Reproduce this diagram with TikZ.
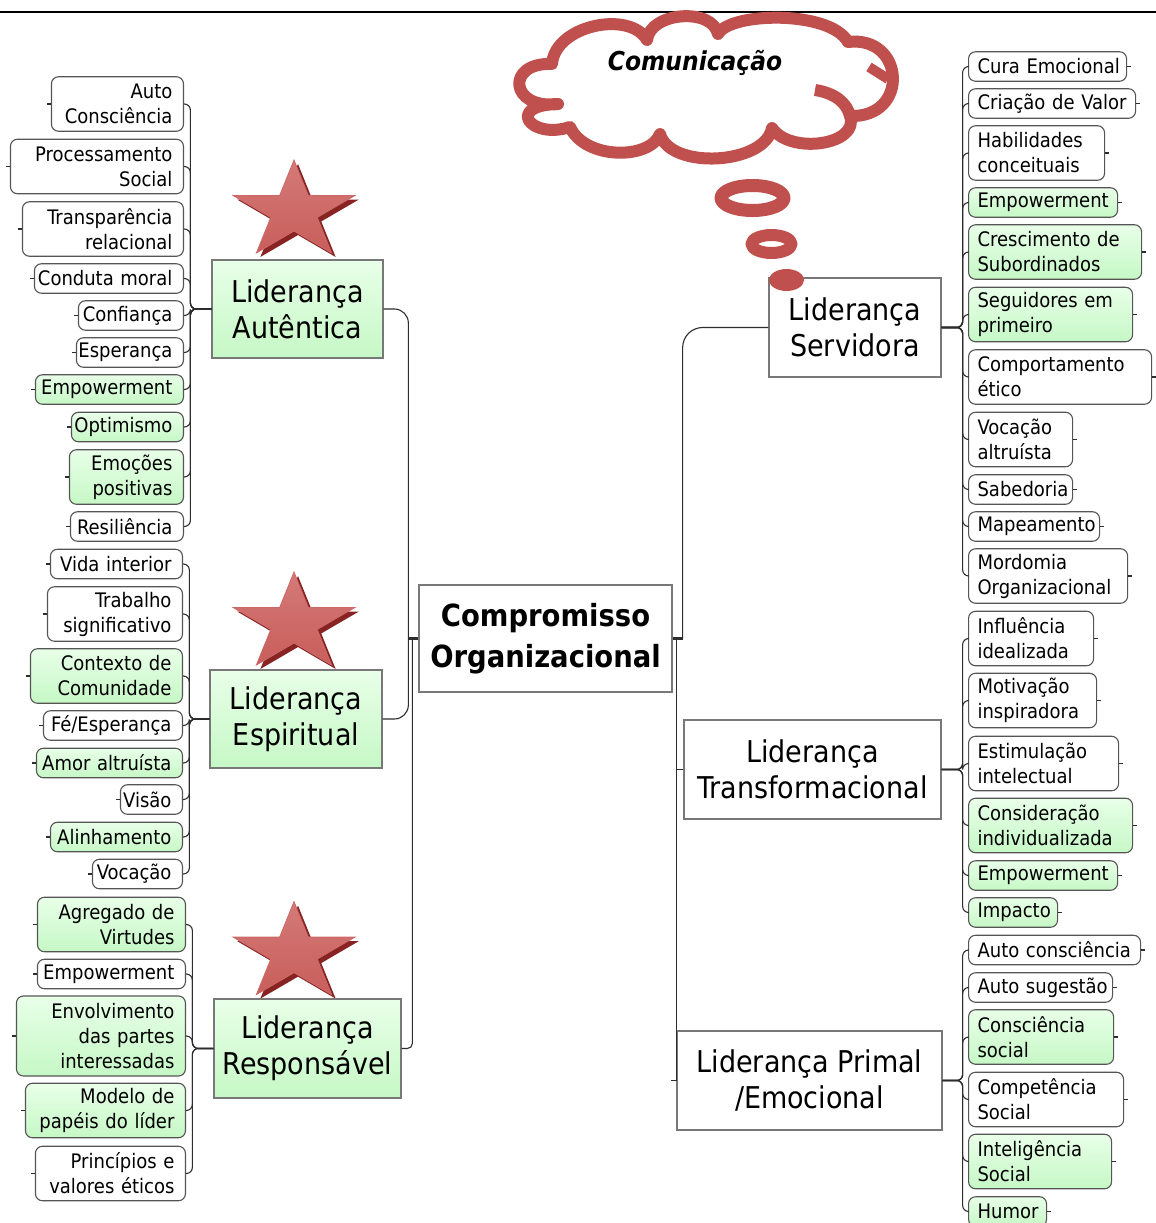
\documentclass[tikz,border=0pt]{standalone}
\usepackage{fontspec}
\setmainfont{DejaVu Sans Condensed}
\definecolor{cloudred}{RGB}{192,80,77}
\definecolor{nodeline}{RGB}{85,85,85}
\definecolor{mainline}{RGB}{120,120,120}
\definecolor{wirec}{RGB}{45,45,45}
\definecolor{gtop}{RGB}{232,255,232}
\definecolor{gbot}{RGB}{198,248,198}
\definecolor{starlight}{RGB}{212,122,120}
\definecolor{starmid}{RGB}{192,80,77}
\definecolor{starlow}{RGB}{200,94,91}
\definecolor{starshade}{RGB}{135,35,35}
\definecolor{staredge}{RGB}{206,104,102}
\newcommand\linR[1]{\makebox[\hsize][r]{#1}}
\newcommand\linL[1]{\makebox[\hsize][l]{#1}}
\tikzset{
  base/.style={draw=nodeline, line width=1.1, rounded corners=7, inner ysep=0,
    font=\fontsize{20}{25}\selectfont},
  lc/.style={base, anchor=east, align=right, inner xsep=11},
  rc/.style={base, anchor=west, align=left, inner xsep=9},
  greenfill/.style={top color=gtop, bottom color=gbot},
  whitefill/.style={fill=white},
  oneline/.style={minimum height=29.5},
  twoline/.style={minimum height=54.5},
  threeline/.style={minimum height=80},
  mainbox/.style={draw=mainline, line width=1.3, inner sep=0, align=center,
    font=\fontsize{30}{36}\selectfont},
  wire/.style={draw=wirec, line width=1.1, rounded corners=6},
  cloudline/.style={draw=cloudred, line width=12, line join=round},
  starbody/.style={top color=starlight, middle color=starmid, bottom color=starlow,
    draw=staredge, line width=0.8},
  pics/redstar/.style={code={
    \fill[starshade] (4,-47.4) -- (18.37,-11.88) -- (64.87,-11.88) -- (27.25,10.07)
      -- (41.62,45.58) -- (4,23.63) -- (-33.62,45.58) -- (-19.25,10.07)
      -- (-56.87,-11.88) -- (-10.37,-11.88) -- cycle;
    \path[starbody] (0,-51.4) -- (14.37,-15.88) -- (60.87,-15.88) -- (23.25,6.07)
      -- (37.62,41.58) -- (0,19.63) -- (-37.62,41.58) -- (-23.25,6.07)
      -- (-60.87,-15.88) -- (-14.37,-15.88) -- cycle;
  }}
}
\begin{document}
\begin{tikzpicture}[x=1pt,y=-1pt]
\useasboundingbox (0,0) rectangle (1156,1223);

% page rule behind the thought cloud
\coordinate (ruleL) at (0,12);
\coordinate (ruleR) at (1156,12);
\draw[line width=1.3] (ruleL) -- (ruleR);

% ---------- thought cloud ----------
\path[cloudline, fill=white]
  (552,64) .. controls (555,25) and (630,10) .. (647,40)
  .. controls (650,12) and (712,7) .. (718,34)
  .. controls (730,12) and (830,10) .. (848,42)
  .. controls (905,35) and (910,118) .. (850,116)
  .. controls (860,145) and (790,155) .. (772,128)
  .. controls (765,165) and (670,170) .. (660,134)
  .. controls (650,160) and (585,160) .. (570,127)
  .. controls (530,140) and (505,105) .. (558,104)
  .. controls (510,110) and (505,62) .. (552,64) -- cycle;
\draw[cloudline, line cap=butt] (815,90) .. controls (835,93) and (847,103) .. (850,116);
\draw[cloudline, line width=10, line cap=butt] (869,67) -- (888,79);
\node[font=\fontsize{26}{30}\selectfont\bfseries\itshape] (cm) at (695,63) {Comunicação};
\draw[cloudline, line width=13] (752.5,198) ellipse [x radius=31.5, y radius=12.5];
\draw[cloudline] (771.5,244) ellipse [x radius=20, y radius=9];

% ---------- stars ----------
\pic at (294,211.4) {redstar};
\pic at (294,623.4) {redstar};
\pic at (294,953) {redstar};

% ---------- central and main topics ----------
\node[mainbox, fill=white, minimum width=253, minimum height=107,
      font=\fontsize{30.5}{41}\selectfont\bfseries] (co) at (545.5,638.5)
      {Compromisso\\Organizacional};
\node[mainbox, greenfill, minimum width=171, minimum height=98] (la) at (297.5,309) {Liderança\\Autêntica};
\node[mainbox, greenfill, minimum width=172, minimum height=98] (le) at (296,719) {Liderança\\Espiritual};
\node[mainbox, greenfill, minimum width=187, minimum height=99] (lr) at (307.5,1048.5) {Liderança\\Responsável};
\node[mainbox, fill=white, minimum width=172, minimum height=99] (ls) at (855,327.5) {Liderança\\Servidora};
\node[mainbox, fill=white, minimum width=257, minimum height=99] (lt) at (812.5,769.5) {Liderança\\Transformacional};
\node[mainbox, fill=white, minimum width=265, minimum height=99] (lp) at (809.5,1080.5) {Liderança Primal\\/Emocional};

% ---------- Liderança Autêntica ----------
\node[lc, whitefill, twoline, text width=110] (a1) at (184,104) {\linR{Auto}\\\linR{Consciência}};
\node[lc, whitefill, twoline, text width=151] (a2) at (184,166.5) {\linR{Processamento}\\\linR{Social}};
\node[lc, whitefill, twoline, text width=139] (a3) at (184,229) {\linR{Transparência}\\\linR{relacional}};
\node[lc, whitefill, oneline, text width=127] (a4) at (184,278.5) {\linR{Conduta moral}};
\node[lc, whitefill, oneline, text width=83] (a5) at (184,315.5) {\linR{Confiança}};
\node[lc, whitefill, oneline, text width=85] (a6) at (184,352.5) {\linR{Esperança}};
\node[lc, greenfill, oneline, text width=126] (a7) at (184,389.5) {\linR{Empowerment}};
\node[lc, greenfill, oneline, text width=90] (a8) at (184,427) {\linR{Optimismo}};
\node[lc, greenfill, twoline, text width=92] (a9) at (184,477) {\linR{Emoções}\\\linR{positivas}};
\node[lc, whitefill, oneline, text width=91] (a10) at (184,526.5) {\linR{Resiliência}};

% ---------- Liderança Espiritual ----------
\node[lc, whitefill, oneline, text width=110] (e1) at (183,564) {\linR{Vida interior}};
\node[lc, whitefill, twoline, text width=113] (e2) at (183,614) {\linR{Trabalho}\\\linR{significativo}};
\node[lc, greenfill, twoline, text width=130] (e3) at (183,676) {\linR{Contexto de}\\\linR{Comunidade}};
\node[lc, whitefill, oneline, text width=117] (e4) at (183,725.5) {\linR{Fé/Esperança}};
\node[lc, greenfill, oneline, text width=124] (e5) at (183,763) {\linR{Amor altruísta}};
\node[lc, whitefill, oneline, text width=40] (e6) at (183,799.5) {\linR{Visão}};
\node[lc, greenfill, oneline, text width=110] (e7) at (183,837) {\linR{Alinhamento}};
\node[lc, whitefill, oneline, text width=68] (e8) at (183,874) {\linR{Vocação}};

% ---------- Liderança Responsável ----------
\node[lc, greenfill, twoline, text width=126] (r1) at (186,924.5) {\linR{Agregado de}\\\linR{Virtudes}};
\node[lc, whitefill, oneline, text width=126] (r2) at (186,974) {\linR{Empowerment}};
\node[lc, greenfill, threeline, text width=147] (r3) at (186,1036) {\linR{Envolvimento}\\\linR{das partes}\\\linR{interessadas}};
\node[lc, greenfill, twoline, text width=138] (r4) at (186,1110.5) {\linR{Modelo de}\\\linR{papéis do líder}};
\node[lc, whitefill, twoline, text width=128] (r5) at (186,1173.5) {\linR{Princípios e}\\\linR{valores éticos}};

% ---------- Liderança Servidora ----------
\node[rc, whitefill, oneline, text width=140] (s1) at (968,66.5) {\linL{Cura Emocional}};
\node[rc, whitefill, oneline, text width=149] (s2) at (968,103.5) {\linL{Criação de Valor}};
\node[rc, whitefill, twoline, text width=118] (s3) at (968,153) {\linL{Habilidades}\\\linL{conceituais}};
\node[rc, greenfill, oneline, text width=131] (s4) at (968,202.5) {\linL{Empowerment}};
\node[rc, greenfill, twoline, text width=155] (s5) at (968,252) {\linL{Crescimento de}\\\linL{Subordinados}};
\node[rc, greenfill, twoline, text width=146] (s6) at (968,314.5) {\linL{Seguidores em}\\\linL{primeiro}};
\node[rc, whitefill, twoline, text width=165] (s7) at (968,377) {\linL{Comportamento}\\\linL{ético}};
\node[rc, whitefill, twoline, text width=86] (s8) at (968,439.5) {\linL{Vocação}\\\linL{altruísta}};
\node[rc, whitefill, oneline, text width=86] (s9) at (968,489.5) {\linL{Sabedoria}};
\node[rc, whitefill, oneline, text width=113] (s10) at (968,526.5) {\linL{Mapeamento}};
\node[rc, whitefill, twoline, text width=141] (s11) at (968,576) {\linL{Mordomia}\\\linL{Organizacional}};

% ---------- Liderança Transformacional ----------
\node[rc, whitefill, twoline, text width=107] (t1) at (968,638.5) {\linL{Influência}\\\linL{idealizada}};
\node[rc, whitefill, twoline, text width=110] (t2) at (968,700.5) {\linL{Motivação}\\\linL{inspiradora}};
\node[rc, whitefill, twoline, text width=132] (t3) at (968,763.5) {\linL{Estimulação}\\\linL{intelectual}};
\node[rc, greenfill, twoline, text width=146] (t4) at (968,825.5) {\linL{Consideração}\\\linL{individualizada}};
\node[rc, greenfill, oneline, text width=131] (t5) at (968,875.5) {\linL{Empowerment}};
\node[rc, greenfill, oneline, text width=71] (t6) at (968,912.5) {\linL{Impacto}};

% ---------- Liderança Primal / Emocional ----------
\node[rc, whitefill, oneline, text width=154] (p1) at (968,950) {\linL{Auto consciência}};
\node[rc, whitefill, oneline, text width=126] (p2) at (968,987.5) {\linL{Auto sugestão}};
\node[rc, greenfill, twoline, text width=127] (p3) at (968,1037) {\linL{Consciência}\\\linL{social}};
\node[rc, whitefill, twoline, text width=137] (p4) at (968,1099.5) {\linL{Competência}\\\linL{Social}};
\node[rc, greenfill, twoline, text width=125] (p5) at (968,1161.5) {\linL{Inteligência}\\\linL{Social}};
\node[rc, greenfill, oneline, text width=60] (p6) at (968,1211.5) {\linL{Humor}};

% ---------- connectors: centre to main topics ----------
\draw[wire, rounded corners=14] (la.east) -| ([xshift=-10]co.west);
\draw[wire, rounded corners=14] (le.east) -| ([xshift=-10]co.west);
\draw[wire, rounded corners=5] (lr.east) -| ([xshift=-6]co.west);
\draw[wire, line width=3] (co.west) -- ++(-10,0);
\draw[wire, rounded corners=20] (ls.west) -| ([xshift=10]co.east);
\draw[wire, rounded corners=0] (lt.west) -| ([xshift=4]co.east);
\draw[wire, rounded corners=0] (lp.west) -| ([xshift=4]co.east);
\draw[wire, line width=3] (co.east) -- ++(10,0);
\draw[wire] (lp.west) -- ++(-5,0);

% ---------- connectors: main topics to subtopics ----------
\foreach \c in {a1,a2,a3,a4,a5,a6,a7,a8,a9,a10}{
  \draw[wire] (la.west) -- ++(-21,0) |- (\c.east);
  \draw[wire] (\c.west) -- ++(-4,0);
}
\foreach \c in {e1,e2,e3,e4,e5,e6,e7,e8}{
  \draw[wire] (le.west) -- ++(-20,0) |- (\c.east);
  \draw[wire] (\c.west) -- ++(-4,0);
}
\foreach \c in {r1,r2,r3,r4,r5}{
  \draw[wire] (lr.west) -- ++(-21,0) |- (\c.east);
  \draw[wire] (\c.west) -- ++(-4,0);
}
\foreach \c in {s1,s2,s3,s4,s5,s6,s7,s8,s9,s10,s11}{
  \draw[wire] (ls.east) -- ++(21,0) |- (\c.west);
  \draw[wire] (\c.east) -- ++(4,0);
}
\foreach \c in {t1,t2,t3,t4,t5,t6}{
  \draw[wire] (lt.east) -- ++(21,0) |- (\c.west);
  \draw[wire] (\c.east) -- ++(4,0);
}
\foreach \c in {p1,p2,p3,p4,p5,p6}{
  \draw[wire] (lp.east) -- ++(20,0) |- (\c.west);
  \draw[wire] (\c.east) -- ++(4,0);
}

% last bubble of the thought trail, resting on the Servidora box
\fill[cloudred] (786.5,280) ellipse [x radius=17.5, y radius=11];
\end{tikzpicture}
\end{document}
